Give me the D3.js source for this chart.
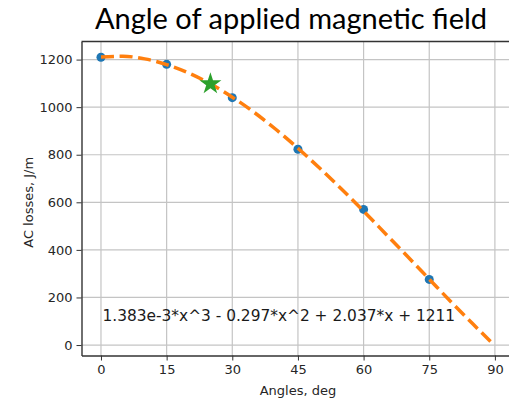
<!DOCTYPE html>
<html>
<head>
<meta charset="utf-8">
<script src="https://cdn.jsdelivr.net/npm/d3@7"></script>
<style>
  body { margin: 0; background: #fff; }
  svg { display: block; }
</style>
</head>
<body>
<div class="chart"></div>
<script>
// measured points (blue dots)
var angles = [0, 15, 30, 45, 60, 75];
var losses = [1210, 1180, 1040, 823, 570, 276];

// fitted curve
var fitX = [0, 5, 10, 15, 20, 25, 30, 35, 40, 45, 50, 55, 60, 65, 70, 75, 80, 85, 89];
var fitY = [1211, 1214, 1203, 1179, 1144, 1098, 1042, 978, 906, 827, 743, 655, 563, 468, 373, 277, 181, 88, 15];

// highlighted point (star)
var starPt = [25, 1098];

var xTicks = [0, 15, 30, 45, 60, 75, 90];
var yTicks = [0, 200, 400, 600, 800, 1000, 1200];

var title = 'Angle of applied magnetic field';
var formula = '1.383e-3*x^3 - 0.297*x^2 + 2.037*x + 1211';

var W = 509, H = 399;
var box = { left: 81.5, right: 510, top: 41.5, bottom: 355.5 };

var svg = d3.select('.chart').append('svg')
  .attr('width', W)
  .attr('height', H);

var x = d3.scaleLinear().domain([-4.45, 93.45]).range([box.left, box.right]);
var y = d3.scaleLinear().domain([-44, 1276]).range([box.bottom, box.top]);

var tickFont = 'DejaVu Sans, sans-serif';

// grid
svg.append('g').selectAll('line.gx')
  .data(xTicks).enter().append('line')
  .attr('x1', d => x(d)).attr('x2', d => x(d))
  .attr('y1', box.top).attr('y2', box.bottom)
  .attr('stroke', '#c4c4c4').attr('stroke-width', 1.2);
svg.append('g').selectAll('line.gy')
  .data(yTicks).enter().append('line')
  .attr('x1', box.left).attr('x2', box.right)
  .attr('y1', d => y(d)).attr('y2', d => y(d))
  .attr('stroke', '#c4c4c4').attr('stroke-width', 1.2);

// axes
var xAxis = svg.append('g')
  .attr('transform', 'translate(0,' + box.bottom + ')')
  .call(d3.axisBottom(x).tickValues(xTicks).tickFormat(d3.format('d'))
    .tickSize(5).tickPadding(4).tickSizeOuter(0));
var yAxis = svg.append('g')
  .attr('transform', 'translate(' + box.left + ',0)')
  .call(d3.axisLeft(y).tickValues(yTicks).tickFormat(d3.format('d'))
    .tickSize(5).tickPadding(4).tickSizeOuter(0));

[xAxis, yAxis].forEach(function(a) {
  a.selectAll('text').attr('font-family', tickFont).attr('font-size', 13).attr('fill', '#262626');
  a.selectAll('line').attr('stroke', '#333').attr('stroke-width', 1);
  a.select('.domain').attr('stroke', '#333').attr('stroke-width', 1.4);
});

// top spine
svg.append('line')
  .attr('x1', box.left).attr('x2', box.right)
  .attr('y1', box.top).attr('y2', box.top)
  .attr('stroke', '#333').attr('stroke-width', 1.4);

// data dots
svg.append('g').selectAll('circle')
  .data(angles).enter().append('circle')
  .attr('cx', d => x(d))
  .attr('cy', (d, i) => y(losses[i]))
  .attr('r', 4.5)
  .attr('fill', '#1f77b4');

// fitted dashed line
var line = d3.line()
  .x(d => x(d))
  .y((d, i) => y(fitY[i]))
  .curve(d3.curveMonotoneX);
svg.append('path')
  .datum(fitX)
  .attr('d', line)
  .attr('fill', 'none')
  .attr('stroke', '#ff7f0e')
  .attr('stroke-width', 3.5)
  .attr('stroke-dasharray', '13,5.6');

// star
svg.append('path')
  .attr('d', d3.symbol().type(d3.symbolStar).size(150))
  .attr('transform', 'translate(' + x(starPt[0]) + ',' + y(starPt[1]) + ')')
  .attr('fill', '#2ca02c');

// formula annotation
svg.append('text')
  .attr('x', x(0) + 1.5)
  .attr('y', y(100))
  .attr('font-family', tickFont)
  .attr('font-size', 15.4)
  .attr('fill', '#1a1a1a')
  .text(formula);

// axis labels
svg.append('text')
  .attr('x', x(45))
  .attr('y', 395)
  .attr('text-anchor', 'middle')
  .attr('font-family', tickFont)
  .attr('font-size', 13)
  .attr('fill', '#262626')
  .text('Angles, deg');
svg.append('text')
  .attr('transform', 'translate(33,' + y(600) + ') rotate(-90)')
  .attr('text-anchor', 'middle')
  .attr('font-family', tickFont)
  .attr('font-size', 13)
  .attr('fill', '#262626')
  .text('AC losses, J/m');

// title
svg.append('text')
  .attr('x', 291)
  .attr('y', 29)
  .attr('text-anchor', 'middle')
  .attr('font-family', 'Lato, sans-serif')
  .attr('font-size', 29)
  .attr('fill', '#000')
  .text(title);
</script>
</body>
</html>
